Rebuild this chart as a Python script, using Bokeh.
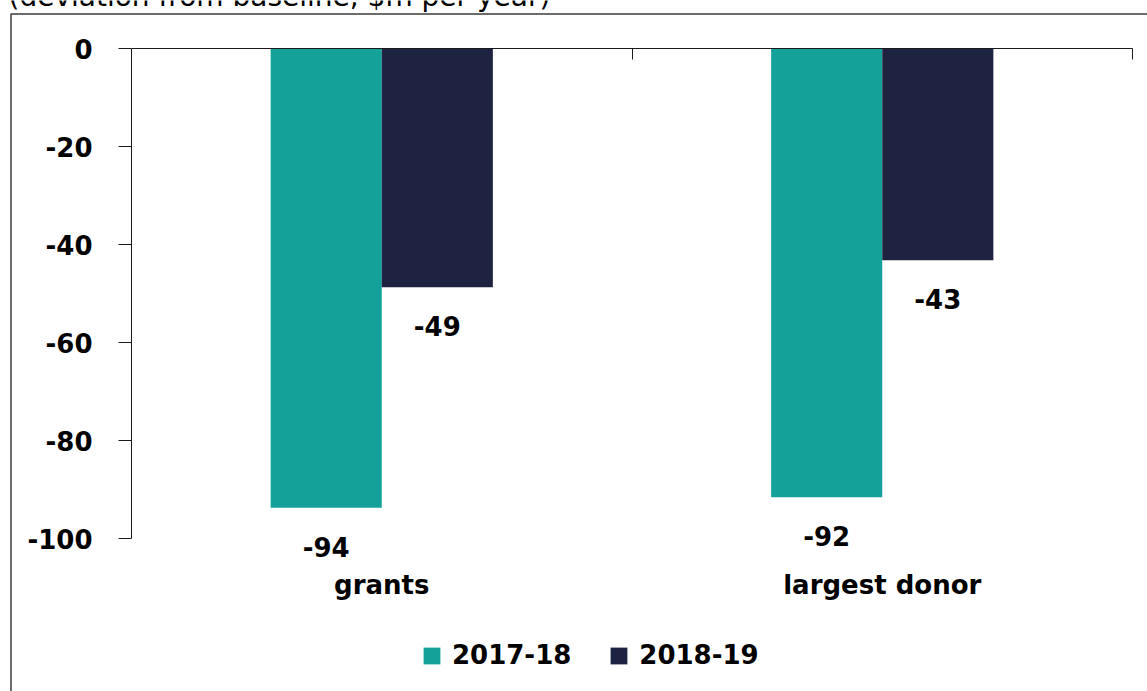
from bokeh.plotting import figure
from bokeh.models import (ColumnDataSource, Range1d, LinearAxis, FixedTicker,
                          LabelSet, Legend, LegendItem, BoxAnnotation, Label)
from bokeh.core.properties import value
from bokeh.transform import dodge
from bokeh.embed import file_html
from bokeh.resources import INLINE

categories = ["grants", "largest donor"]
series_names = ["2017-18", "2018-19"]
values_2017_18 = [-93.7, -91.6]
values_2018_19 = [-48.7, -43.2]
y_ticks = [0, -20, -40, -60, -80, -100]
subtitle = "(deviation from baseline, $m per year)"

TEAL = "#13A19A"
NAVY = "#1E2341"
FONT = "DejaVu Sans"

W, H = 1147, 691
# pixel layout of the plotting region inside the canvas
PX_LEFT, PX_RIGHT = 131, 1132      # x = 0 .. n categories
PX_ZERO, PX_M100 = 48, 538         # y = 0 .. -100

n = len(categories)
xs = (PX_RIGHT - PX_LEFT) / n
ys = (PX_M100 - PX_ZERO) / 100.0
x_range = Range1d(-PX_LEFT / xs, (W - PX_LEFT) / xs)
y_range = Range1d(-(H - PX_ZERO) / ys, PX_ZERO / ys)

centers = [i + 0.5 for i in range(n)]
src = ColumnDataSource(dict(
    xc=centers,
    v1=values_2017_18,
    v2=values_2018_19,
    t1=[f"{round(v):d}" for v in values_2017_18],
    t2=[f"{round(v):d}" for v in values_2018_19],
))

p = figure(width=W, height=H, x_range=x_range, y_range=y_range,
           output_backend="svg", toolbar_location=None,
           min_border=0, min_border_left=0, min_border_right=0,
           min_border_top=0, min_border_bottom=0,
           x_axis_location=None, y_axis_location=None)
p.outline_line_color = None
p.grid.visible = False
p.background_fill_color = "white"
p.border_fill_color = "white"

bw = 0.222
r1 = p.vbar(x=dodge("xc", -bw / 2), top="v1", bottom=0, width=bw,
            source=src, fill_color=TEAL, line_color=None)
r2 = p.vbar(x=dodge("xc", bw / 2), top="v2", bottom=0, width=bw,
            source=src, fill_color=NAVY, line_color=None)

for xo, fld, tf in ((-bw / 2, "v1", "t1"), (bw / 2, "v2", "t2")):
    ls = LabelSet(x=dodge("xc", xo), y=fld, text=tf, source=src,
                  y_offset=-39, text_align="center", text_baseline="middle",
                  text_font=value(FONT), text_font_style="bold", text_font_size="26px",
                  text_color="black")
    p.add_layout(ls)

# y axis at x = 0
ya = LinearAxis(ticker=FixedTicker(ticks=y_ticks), fixed_location=0, bounds=(-100, 0))
ya.major_label_overrides = {t: str(t) for t in y_ticks}
ya.major_tick_out = 13
ya.major_tick_in = 0
ya.minor_tick_line_color = None
ya.axis_line_color = "#1a1a1a"
ya.major_tick_line_color = "#1a1a1a"
ya.major_label_standoff = 26
ya.major_label_text_font = FONT
ya.major_label_text_font_style = "bold"
ya.major_label_text_font_size = "26px"
ya.major_label_text_color = "black"
p.add_layout(ya, "left")

# category labels below the -100 level
xa = LinearAxis(ticker=FixedTicker(ticks=centers), fixed_location=-100)
xa.major_label_overrides = {c: name for c, name in zip(centers, categories)}
xa.axis_line_color = None
xa.major_tick_line_color = None
xa.minor_tick_line_color = None
xa.major_tick_out = 0
xa.major_tick_in = 0
xa.major_label_standoff = 31
xa.major_label_text_font = FONT
xa.major_label_text_font_style = "bold"
xa.major_label_text_font_size = "26px"
xa.major_label_text_color = "black"
p.add_layout(xa, "below")

# zero line with category boundary ticks
top_axis = LinearAxis(ticker=FixedTicker(ticks=[i + 1 for i in range(n)]),
                      fixed_location=0, bounds=(0, n))
top_axis.major_tick_in = 11
top_axis.major_tick_out = 0
top_axis.minor_tick_line_color = None
top_axis.axis_line_color = "#1a1a1a"
top_axis.major_tick_line_color = "#1a1a1a"
top_axis.major_label_text_font_size = "0px"
top_axis.major_label_text_color = None
p.add_layout(top_axis, "above")

legend = Legend(items=[LegendItem(label=series_names[0], renderers=[r1]),
                       LegendItem(label=series_names[1], renderers=[r2])],
                orientation="horizontal", location=(421, 21),
                glyph_width=21, glyph_height=21, label_standoff=10, spacing=37,
                padding=0, margin=0, border_line_color=None, background_fill_alpha=0,
                label_text_font=FONT, label_text_font_style="bold",
                label_text_font_size="26px", label_text_color="black")
p.add_layout(legend)

border = BoxAnnotation(left=10.5, top=13.5, right=1400, bottom=1000,
                       left_units="canvas", right_units="canvas",
                       top_units="canvas", bottom_units="canvas",
                       fill_alpha=0, line_color="#3c3c3c", line_alpha=1.0, line_width=1.5)
p.add_layout(border)

sub = Label(x=8, y=-4, x_units="canvas", y_units="canvas", text=subtitle,
            text_font=FONT, text_font_size="28px", text_baseline="alphabetic",
            text_color="black")
p.add_layout(sub)

open("out.html", "w").write(file_html(p, INLINE))
